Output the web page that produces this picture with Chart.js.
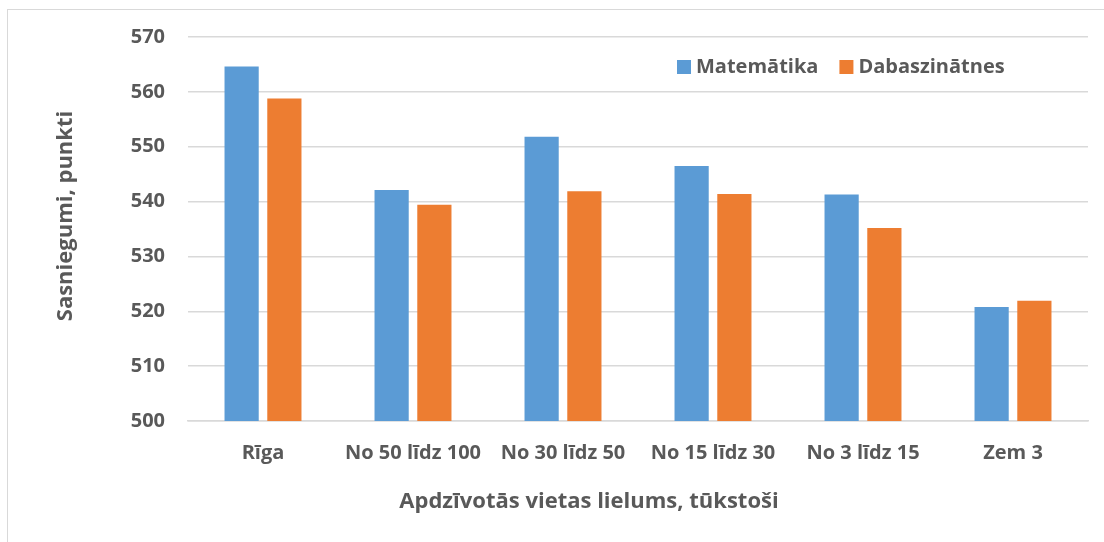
<!DOCTYPE html>
<html>
<head>
<meta charset="utf-8">
<script src="https://cdn.jsdelivr.net/npm/chart.js@4.4.0/dist/chart.umd.min.js"></script>
<style>
  html, body { margin: 0; padding: 0; background: #fff; overflow: hidden; }
  #wrap { width: 1104px; height: 542px; position: relative; }
  #frame { position: absolute; left: 7px; top: 9px; width: 1200px; height: 700px; border: 1.5px solid #d9d9d9; }
  #scoreChart { position: absolute; left: 0; top: 0; }
</style>
</head>
<body>
<div id="wrap">
  <div id="frame"></div>
  <canvas id="scoreChart" width="1104" height="542"></canvas>
</div>
<script>
// data
const categories = ['Rīga', 'No 50 līdz 100', 'No 30 līdz 50', 'No 15 līdz 30', 'No 3 līdz 15', 'Zem 3'];
const seriesNames = ['Matemātika', 'Dabaszinātnes'];
const matematika = [564.6, 542.1, 551.8, 546.5, 541.3, 520.8];
const dabaszinatnes = [558.8, 539.4, 541.9, 541.4, 535.2, 521.9];
const yMin = 500;
const yMax = 570;
const yStep = 10;
const xTitle = 'Apdzīvotās vietas lielums, tūkstoši';
const yTitle = 'Sasniegumi, punkti';

const TEXT = '#595959';
const GRID = '#d9d9d9';
const FONT = { family: "'Open Sans'", size: 20, weight: 'bold' };
const fontStr = (size) => `${FONT.weight} ${size}px ${FONT.family}`;

// axis titles sit off-centre in the original, so draw them by hand
const axisTitles = {
  id: 'axisTitles',
  afterDraw(chart) {
    const ctx = chart.ctx;
    ctx.save();
    ctx.fillStyle = TEXT;
    ctx.font = fontStr(22);
    ctx.textAlign = 'center';
    ctx.textBaseline = 'middle';
    ctx.fillText(xTitle, 589, 502);
    ctx.translate(66, 216);
    ctx.rotate(-Math.PI / 2);
    ctx.fillText(yTitle, 0, 0);
    ctx.restore();
  },
};

// legend sits inside the plot area, top right
const insideLegend = {
  id: 'insideLegend',
  afterDraw(chart) {
    const ctx = chart.ctx;
    const area = chart.chartArea;
    let x = area.left + 489;
    const y = area.top + 30;
    ctx.save();
    ctx.font = fontStr(FONT.size);
    ctx.textAlign = 'left';
    ctx.textBaseline = 'middle';
    chart.data.datasets.forEach((ds) => {
      ctx.fillStyle = ds.backgroundColor;
      ctx.fillRect(x, y - 7, 14, 14);
      ctx.fillStyle = TEXT;
      ctx.fillText(ds.label, x + 19, y);
      x += 19 + ctx.measureText(ds.label).width + 21;
    });
    ctx.restore();
  },
};

const ctx = document.getElementById('scoreChart');
let scoreChart = new Chart(ctx, {
  type: 'bar',
  data: {
    labels: categories,
    datasets: [
      {
        label: seriesNames[0],
        data: matematika,
        backgroundColor: '#5b9bd5',
        categoryPercentage: 0.57,
        barPercentage: 0.8,
      },
      {
        label: seriesNames[1],
        data: dabaszinatnes,
        backgroundColor: '#ed7d31',
        categoryPercentage: 0.57,
        barPercentage: 0.8,
      },
    ],
  },
  options: {
    responsive: false,
    animation: false,
    layout: { padding: { left: 8, top: 37, right: 16, bottom: 0 } },
    plugins: {
      legend: { display: false },
      tooltip: { enabled: false },
    },
    scales: {
      x: {
        grid: { display: false, drawTicks: false },
        border: { color: GRID, width: 1.5 },
        ticks: { color: TEXT, font: FONT, padding: 20, maxRotation: 0 },
        afterFit: (scale) => { scale.height = 121; },
      },
      y: {
        min: yMin,
        max: yMax,
        grid: { color: GRID, lineWidth: 1.5, drawTicks: false },
        border: { display: false },
        ticks: { stepSize: yStep, color: TEXT, font: FONT, padding: 23 },
        afterFit: (scale) => { scale.width = 180; },
      },
    },
  },
  plugins: [axisTitles, insideLegend],
});
</script>
</body>
</html>
